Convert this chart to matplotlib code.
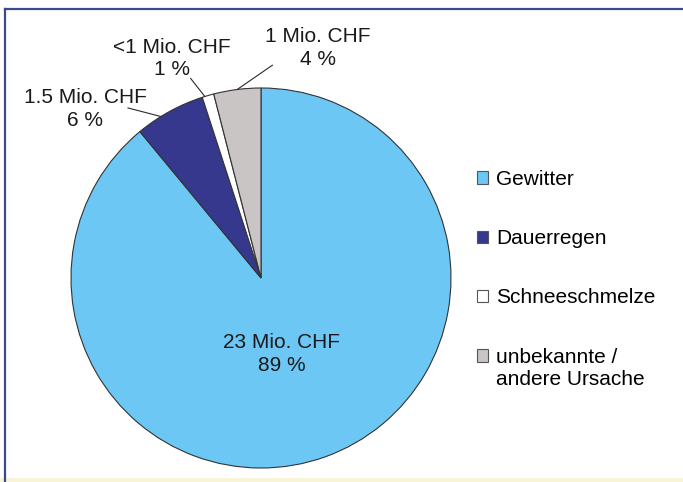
import numpy as np
import matplotlib
matplotlib.use("Agg")
import matplotlib.pyplot as plt
from matplotlib.lines import Line2D
from matplotlib.patches import Rectangle, Patch
from matplotlib.legend_handler import HandlerPatch

plt.rcParams['font.family'] = ['Liberation Sans', 'DejaVu Sans']

# data
causes = ["Gewitter", "Dauerregen", "Schneeschmelze", "unbekannte /\nandere Ursache"]
shares = [89, 6, 1, 4]
amounts = ["23 Mio. CHF", "1.5 Mio. CHF", "<1 Mio. CHF", "1 Mio. CHF"]
colors = ["#6cc7f4", "#35388c", "#ffffff", "#c9c5c5"]

W, H = 683, 482
fig = plt.figure(figsize=(W / 100, H / 100), dpi=100)
fig.patch.set_facecolor("white")

# pie centre (px) and radius (px)
cx, cy, R = 261, 278, 190
lim = 1.3
ax = fig.add_axes([(cx - lim * R) / W, (H - cy - lim * R) / H, 2 * lim * R / W, 2 * lim * R / H])

wedges, _ = ax.pie(shares, colors=colors, startangle=90, counterclock=False,
                   wedgeprops=dict(edgecolor="#333333", linewidth=0.8))
ax.set_xlim(-lim, lim)
ax.set_ylim(-lim, lim)
ax.set_aspect("equal")
ax.axis("off")

# label positions (text centre) for each slice, in pie radius units
text_pos = [(0.11, -0.40), (-0.925, 0.89), (-0.47, 1.155), (0.30, 1.21)]
line_start = [None, (-0.70, 0.895), (-0.37, 1.05), (0.06, 1.12)]
line_shift = [0, 3, 1, 0]  # degrees, where the leader meets the rim

for i, w in enumerate(wedges):
    label = f"{amounts[i]}\n{shares[i]} %"
    tx, ty = text_pos[i]
    ax.text(tx, ty, label, ha="center", va="center", fontsize=15,
            color="#1a1a1a", linespacing=1.22, clip_on=False)
    if line_start[i] is not None:
        mid = np.deg2rad((w.theta1 + w.theta2) / 2 + line_shift[i])
        ax.plot([line_start[i][0], np.cos(mid)], [line_start[i][1], np.sin(mid)],
                color="#2a2a2a", linewidth=0.8, clip_on=False)


def square(legend, orig_handle, xdescent, ydescent, width, height, fontsize):
    return Rectangle((-xdescent, -ydescent), width, height)


def square_up(legend, orig_handle, xdescent, ydescent, width, height, fontsize):
    return Rectangle((-xdescent, -ydescent + 0.6 * fontsize), width, height)


handles = [Patch(facecolor=c, edgecolor="#555555", linewidth=0.8) for c in colors]
hmap = {h: HandlerPatch(patch_func=square) for h in handles[:3]}
hmap[handles[3]] = HandlerPatch(patch_func=square_up)
fig.legend(handles, causes, loc="upper left", bbox_to_anchor=(477 / W, 1 - 170 / H),
           frameon=False, fontsize=15, handlelength=0.55, handleheight=0.55,
           handletextpad=0.35, labelspacing=1.93, borderpad=0, borderaxespad=0,
           handler_map=hmap)

# frame lines
fig.add_artist(Line2D([5 / W, 1], [1 - 9 / H, 1 - 9 / H], color="#3b4a8c", linewidth=1.6))
fig.add_artist(Line2D([5 / W, 5 / W], [0, 1 - 9 / H], color="#3b4a8c", linewidth=1.6))
fig.add_artist(Rectangle((0, 0), 1, 4 / H, transform=fig.transFigure,
                         facecolor="#f8f4d8", edgecolor="none"))

fig.savefig("out.png", dpi=100)
